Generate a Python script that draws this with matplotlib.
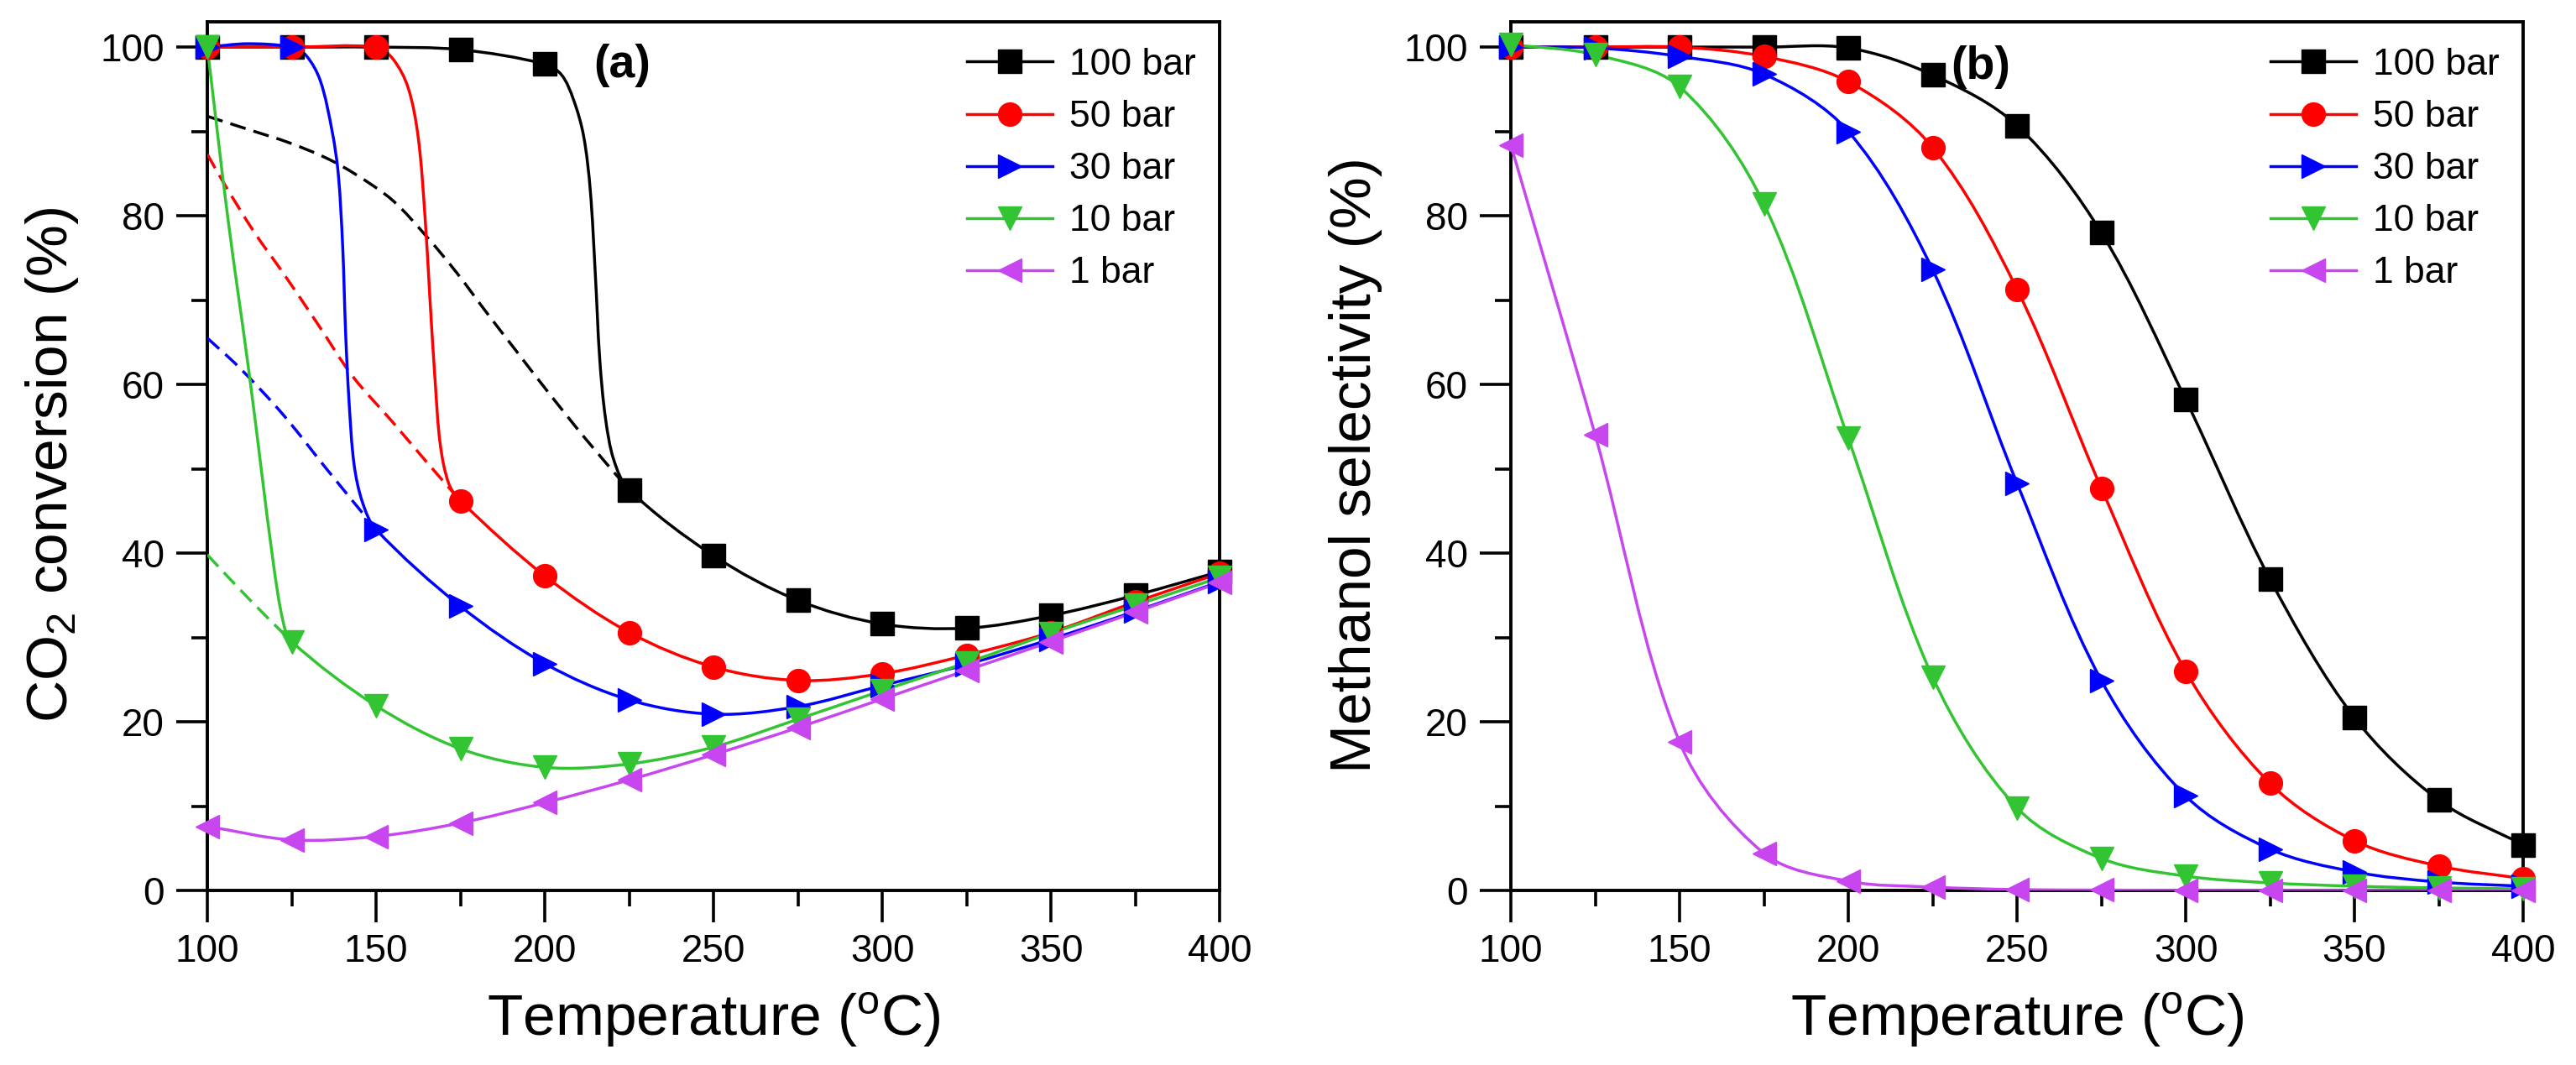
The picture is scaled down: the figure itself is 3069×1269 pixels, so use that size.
import numpy as np
import matplotlib
matplotlib.use('Agg')
import matplotlib.pyplot as plt
from matplotlib.path import Path
from matplotlib.patches import PathPatch
from matplotlib.lines import Line2D
from matplotlib.ticker import MultipleLocator

plt.rcParams['font.family'] = ['Liberation Sans', 'DejaVu Sans']
plt.rcParams['mathtext.fontset'] = 'custom'
plt.rcParams['mathtext.rm'] = 'Liberation Sans'
plt.rcParams['mathtext.it'] = 'Liberation Sans:italic'
plt.rcParams['mathtext.bf'] = 'Liberation Sans:bold'

# ---- data ----
temps = [100, 125, 150, 175, 200, 225, 250, 275, 300, 325, 350, 375, 400]
labels = ['100 bar', '50 bar', '30 bar', '10 bar', '1 bar']
colors = ['#000000', '#FF0000', '#0000FF', '#33C433', '#C846F0']
markers = ['s', 'o', '>', 'v', '<']

# (a) CO2 conversion (%), markers
conv_100 = [100, 100, 100, 99.7, 98.0, 47.5, 39.7, 34.4, 31.6, 31.1, 32.6, 35.0, 37.8]
conv_50 = [100, 100, 100, 46.2, 37.3, 30.6, 26.5, 24.9, 25.7, 27.9, 30.6, 34.2, 37.6]
conv_30 = [100, 100, 42.8, 33.7, 26.9, 22.6, 20.9, 21.8, 24.3, 26.8, 29.8, 33.1, 36.6]
conv_10 = [100, 29.5, 21.9, 16.8, 14.6, 15.0, 17.0, 20.3, 23.7, 27.0, 30.5, 33.8, 37.1]
conv_1 = [7.6, 6.0, 6.4, 8.0, 10.4, 13.1, 16.1, 19.3, 22.7, 26.1, 29.5, 33.0, 36.5]

# (a) extra points of the solid curves in the steep drop regions
drop_x_100 = [205, 208.5, 211.5, 213.5, 215, 216.3, 218, 220.5]
drop_y_100 = [96.7, 93.8, 89.5, 83.0, 73.0, 63.0, 56.0, 51.0]
drop_x_50 = [155, 159.5, 162.5, 164.5, 166, 167.5, 169, 171.5]
drop_y_50 = [98.6, 95.2, 89.3, 80.0, 70.0, 60.5, 53.0, 48.3]
drop_x_30 = [112, 129.3, 133.5, 137, 138.8, 140.1, 141, 142, 143.5, 146]
drop_y_30 = [100.4, 99.0, 96.0, 90.0, 85.0, 76.5, 66.0, 58.0, 50.5, 46.0]
drop_x_10 = [106, 112.5, 119.5, 122.5]
drop_y_10 = [80.0, 61.0, 39.0, 31.8]

# (a) dashed curves
eq_x_100 = [100, 114, 124, 135, 144, 155, 165.5, 174, 183, 191.5, 200, 212, 225]
eq_y_100 = [91.8, 90.0, 88.7, 86.9, 84.9, 81.8, 77.3, 73.2, 68.4, 64.0, 59.6, 53.6, 47.5]
eq_x_50 = [100, 105, 114, 122.5, 133, 143, 155, 165, 175]
eq_y_50 = [87.3, 83.8, 78.0, 73.2, 67.0, 61.0, 55.5, 50.8, 46.2]
eq_x_30 = [100, 109.5, 122.5, 135.5, 150]
eq_y_30 = [65.5, 62.0, 56.4, 49.9, 42.8]
eq_x_10 = [100, 112.5, 125]
eq_y_10 = [39.8, 34.5, 29.5]

# (b) methanol selectivity (%)
sel_100 = [100, 100, 100, 100, 99.9, 96.7, 90.7, 78.0, 58.2, 36.9, 20.5, 10.7, 5.4]
sel_50 = [100, 100, 100, 98.9, 95.9, 88.1, 71.3, 47.7, 26.0, 12.7, 5.9, 2.9, 1.4]
sel_30 = [100, 99.9, 98.9, 96.8, 90.0, 73.6, 48.3, 24.9, 11.2, 4.9, 2.2, 1.0, 0.5]
sel_10 = [100.3, 99.1, 95.3, 81.4, 53.6, 25.3, 9.8, 3.8, 1.7, 0.9, 0.5, 0.3, 0.2]
sel_1 = [88.4, 54.0, 17.6, 4.4, 1.1, 0.4, 0.1, 0.05, 0, 0, 0, 0, 0]

AX_W, AX_H = 1206, 1035  # axes size in pixels


def curve(ax, x, y, **kw):
    # smooth bezier connector through the given points (like Origin's spline line)
    x = np.asarray(x, float)
    y = np.asarray(y, float)
    order = np.argsort(x)
    x, y = x[order], y[order]
    xl, yl = ax.get_xlim(), ax.get_ylim()
    sx = AX_W / (xl[1] - xl[0])
    sy = AX_H / (yl[1] - yl[0])
    p = np.column_stack([(x - xl[0]) * sx, (y - yl[0]) * sy])
    seg = np.diff(p, axis=0)
    d = np.hypot(seg[:, 0], seg[:, 1])
    t = np.zeros_like(p)
    t[0] = seg[0] / d[0]
    t[-1] = seg[-1] / d[-1]
    for i in range(1, len(p) - 1):
        t[i] = (p[i + 1] - p[i - 1]) / (d[i - 1] + d[i])
    verts = [p[0]]
    codes = [Path.MOVETO]
    for i in range(len(p) - 1):
        verts += [p[i] + t[i] * d[i] / 3, p[i + 1] - t[i + 1] * d[i] / 3, p[i + 1]]
        codes += [Path.CURVE4] * 3
    v = np.array(verts)
    v[:, 0] = v[:, 0] / sx + xl[0]
    v[:, 1] = v[:, 1] / sy + yl[0]
    ax.add_patch(PathPatch(Path(v, codes), fill=False, **kw))


def style_axes(ax, ylabel):
    ax.set_xlim(100, 400)
    ax.set_ylim(0, 103)
    ax.xaxis.set_major_locator(MultipleLocator(50))
    ax.xaxis.set_minor_locator(MultipleLocator(25))
    ax.yaxis.set_major_locator(MultipleLocator(20))
    ax.yaxis.set_minor_locator(MultipleLocator(10))
    ax.tick_params(which='both', direction='out', width=2.6, labelsize=33)
    ax.tick_params(which='major', length=27)
    ax.tick_params(which='minor', length=13.5)
    ax.tick_params(axis='x', which='major', pad=10)
    ax.tick_params(axis='y', which='major', pad=10)
    for s in ax.spines.values():
        s.set_linewidth(2.8)
    ax.set_xlabel(r'Temperature ($^{\mathrm{o}}$C)', fontsize=50)
    ax.xaxis.label.set_va('baseline')
    ax.xaxis.set_label_coords(0.5, -0.167)
    ax.set_ylabel(ylabel, fontsize=50)
    ax.yaxis.label.set_va('baseline')
    ax.yaxis.set_label_coords(-0.1385, 0.49)


def add_legend(ax):
    handles = [Line2D([], [], color=c, marker=m, ms=20, mec=c, lw=2.5)
               for c, m in zip(colors, markers)]
    ax.legend(handles, labels, loc='upper left', bbox_to_anchor=(0.7504, 0.97),
              frameon=False, fontsize=32, handlelength=2.3, handletextpad=0.45,
              labelspacing=0.475, borderpad=0, borderaxespad=0, numpoints=1)


fig = plt.figure(figsize=(30.69, 12.69), dpi=100)
ax1 = fig.add_axes([247 / 3069, 1 - 1061 / 1269, AX_W / 3069, AX_H / 1269])
ax2 = fig.add_axes([1800 / 3069, 1 - 1061 / 1269, AX_W / 3069, AX_H / 1269])

style_axes(ax1, r'CO$_{\mathrm{2}}$ conversion (%)')
style_axes(ax2, 'Methanol selectivity (%)')

# ---- panel (a) ----
conv = [conv_100, conv_50, conv_30, conv_10, conv_1]
drops = [(drop_x_100, drop_y_100), (drop_x_50, drop_y_50), (drop_x_30, drop_y_30),
         (drop_x_10, drop_y_10), ([], [])]
eqs = [(eq_x_100, eq_y_100), (eq_x_50, eq_y_50), (eq_x_30, eq_y_30), (eq_x_10, eq_y_10)]

for i, (c, m) in enumerate(zip(colors, markers)):
    if i < len(eqs):
        curve(ax1, eqs[i][0], eqs[i][1], edgecolor=c, lw=2.5,
              linestyle=(0, (5.5, 2.8)), zorder=2 + i)
    lx = list(temps) + list(drops[i][0])
    ly = list(conv[i]) + list(drops[i][1])
    curve(ax1, lx, ly, edgecolor=c, lw=2.5, zorder=2 + i)
    ax1.plot(temps, conv[i], ls='none', marker=m, ms=20, color=c, mec=c,
             clip_on=False, zorder=10 + i)

ax1.text(0.41, 0.95, '(a)', transform=ax1.transAxes, fontsize=40,
         fontweight='bold', ha='center', va='center')
add_legend(ax1)

# ---- panel (b) ----
sel = [sel_100, sel_50, sel_30, sel_10, sel_1]
for i, (c, m) in enumerate(zip(colors, markers)):
    curve(ax2, temps, sel[i], edgecolor=c, lw=2.5, zorder=2 + i)
    ax2.plot(temps, sel[i], ls='none', marker=m, ms=20, color=c, mec=c,
             clip_on=False, zorder=10 + i)

ax2.text(0.464, 0.948, '(b)', transform=ax2.transAxes, fontsize=40,
         fontweight='bold', ha='center', va='center')
add_legend(ax2)

fig.savefig('out.png', dpi=100)
